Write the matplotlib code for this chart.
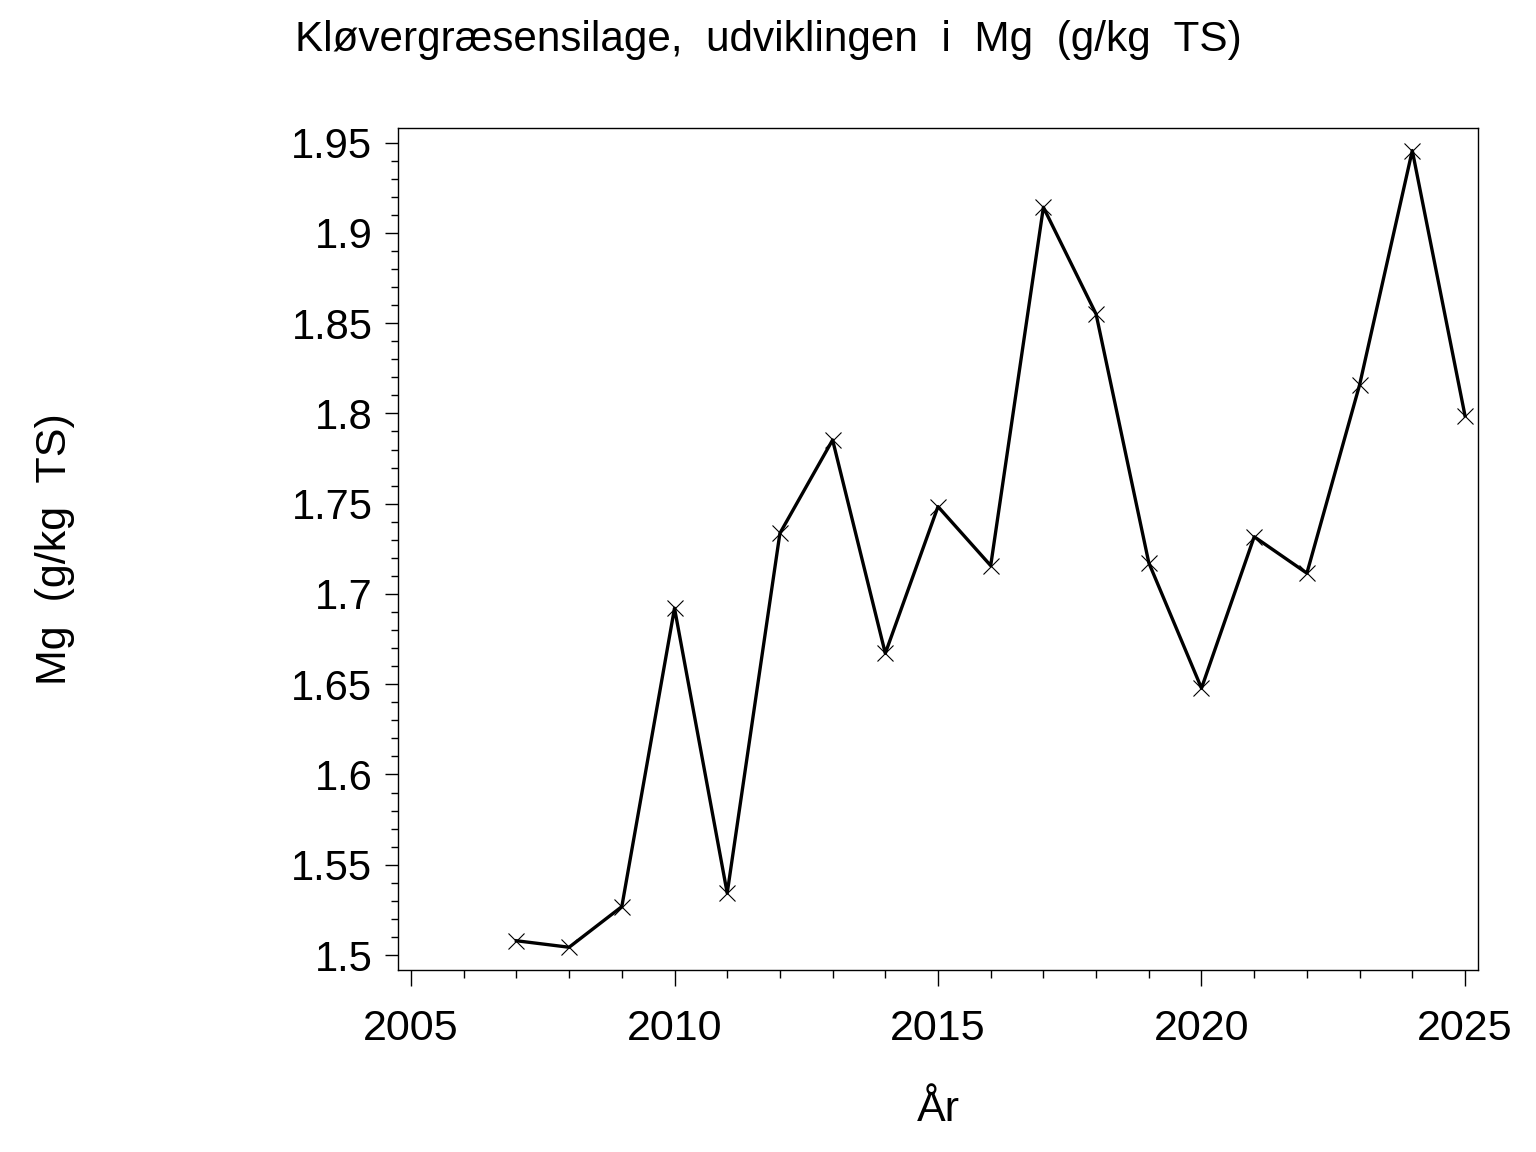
import matplotlib
matplotlib.use("Agg")
import matplotlib.pyplot as plt
from matplotlib.ticker import MultipleLocator, FixedLocator

# data
aar = [2007, 2008, 2009, 2010, 2011, 2012, 2013, 2014, 2015, 2016,
       2017, 2018, 2019, 2020, 2021, 2022, 2023, 2024, 2025]
mg = [1.5079, 1.5043, 1.5268, 1.6921, 1.5343, 1.7336, 1.7853, 1.6671, 1.7484, 1.7157,
      1.9142, 1.8550, 1.7173, 1.6478, 1.7317, 1.7115, 1.8158, 1.9456, 1.7988]

x_ticks = [2005, 2010, 2015, 2020, 2025]
y_ticks = [1.5, 1.55, 1.6, 1.65, 1.7, 1.75, 1.8, 1.85, 1.9, 1.95]
y_labels = ['1.5', '1.55', '1.6', '1.65', '1.7', '1.75', '1.8', '1.85', '1.9', '1.95']

plt.rcParams['font.family'] = ['Liberation Sans', 'DejaVu Sans']

fig = plt.figure(figsize=(15.36, 11.52), dpi=100)
ax = fig.add_axes([398/1536, 182/1152, 1080/1536, 842/1152])

ax.plot(aar, mg, color='black', linewidth=2.4, marker='x', markersize=11.5,
        markeredgewidth=0.8)

ax.set_xlim(2004.753, 2025.247)
ax.set_ylim(1.4917, 1.9581)

ax.xaxis.set_major_locator(FixedLocator(x_ticks))
ax.xaxis.set_minor_locator(MultipleLocator(1))
ax.set_yticks(y_ticks)
ax.set_yticklabels(y_labels)
ax.yaxis.set_minor_locator(MultipleLocator(0.01))

ax.tick_params(axis='x', which='major', length=11.3, width=1, pad=17, labelsize=31)
ax.tick_params(axis='x', which='minor', length=5.5, width=1)
ax.tick_params(axis='y', which='major', length=9.4, width=1, pad=9, labelsize=30)
ax.tick_params(axis='y', which='minor', length=5, width=1)
for s in ax.spines.values():
    s.set_linewidth(1)

fig.text(0.5, 1 - 40/1152, 'Kløvergræsensilage,  udviklingen  i  Mg  (g/kg  TS)',
         ha='center', va='center', fontsize=30.4)
fig.text(55/1536, 1 - 549/1152, 'Mg  (g/kg  TS)', rotation=90,
         ha='center', va='center', fontsize=31)
fig.text(938/1536, 1 - 1110/1152, 'År', ha='center', va='center', fontsize=31)

fig.savefig('out.png', dpi=100)
